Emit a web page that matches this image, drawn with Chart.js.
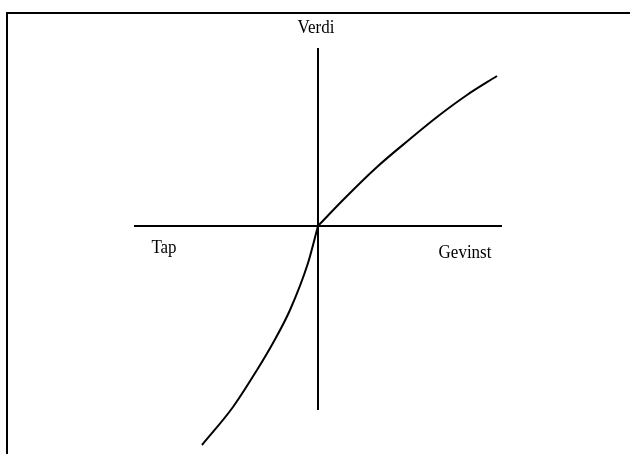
<!DOCTYPE html>
<html>
<head>
<meta charset="utf-8">
<script src="https://cdn.jsdelivr.net/npm/chart.js@4"></script>
<style>
  html, body { margin: 0; padding: 0; background: #fff; }
  #wrap { position: relative; width: 630px; height: 454px; }
  #frame {
    position: absolute; left: 6px; top: 12px; right: 0; bottom: 0;
    border-left: 2px solid #000; border-top: 2px solid #000;
    pointer-events: none;
  }
  canvas { position: absolute; left: 0; top: 0; }
</style>
</head>
<body>
<div id="wrap">
  <canvas id="valueChart" width="630" height="454"></canvas>
  <div id="frame"></div>
</div>
<script>
// Value function (gains/losses)
const gainX = [0, 25, 59, 92, 119, 149, 179];
const gainY = [0, 26, 59, 87, 109, 131, 150];
const lossX = [-116, -85, -61, -45, -28, -10, 0];
const lossY = [-219, -181, -144, -117, -84, -37, 0];

// Axis extents
const xAxisX = [-184, 184];
const yAxisY = [-184, 178];

// Labels (position = centre of baseline)
const labelText = ['Verdi', 'Tap', 'Gevinst'];
const labelX = [-2, -154, 147];
const labelY = [193, -27, -32];

const toPoints = (xs, ys) => xs.map((x, i) => ({ x, y: ys[i] }));

const labelPlugin = {
  id: 'axisLabels',
  afterDatasetsDraw(chart) {
    const { ctx, scales } = chart;
    labelText.forEach((t, i) => {
      const px = scales.x.getPixelForValue(labelX[i]);
      const py = scales.y.getPixelForValue(labelY[i]);
      ctx.save();
      ctx.translate(px, py);
      ctx.scale(1, 1.12); // the scanned lettering is a little taller
      ctx.fillStyle = '#000';
      ctx.font = '17px "Liberation Serif", "Times New Roman", serif';
      ctx.textAlign = 'center';
      ctx.textBaseline = 'alphabetic';
      ctx.fillText(t, 0, 0);
      ctx.restore();
    });
  }
};

const lineStyle = {
  borderColor: '#000',
  borderWidth: 2,
  pointRadius: 0,
  showLine: true,
  fill: false
};

new Chart(document.getElementById('valueChart'), {
  type: 'scatter',
  data: {
    datasets: [
      { ...lineStyle, data: toPoints(xAxisX, [0, 0]), tension: 0 },
      { ...lineStyle, data: toPoints([0, 0], yAxisY), tension: 0 },
      { ...lineStyle, data: toPoints(gainX, gainY), cubicInterpolationMode: 'monotone' },
      { ...lineStyle, data: toPoints(lossX, lossY), cubicInterpolationMode: 'monotone' }
    ]
  },
  options: {
    responsive: false,
    animation: false,
    layout: { padding: 0 },
    plugins: { legend: { display: false }, tooltip: { enabled: false } },
    scales: {
      x: { type: 'linear', display: false, min: -318, max: 312 },
      y: { type: 'linear', display: false, min: -228, max: 226 }
    }
  },
  plugins: [labelPlugin]
});
</script>
</body>
</html>
